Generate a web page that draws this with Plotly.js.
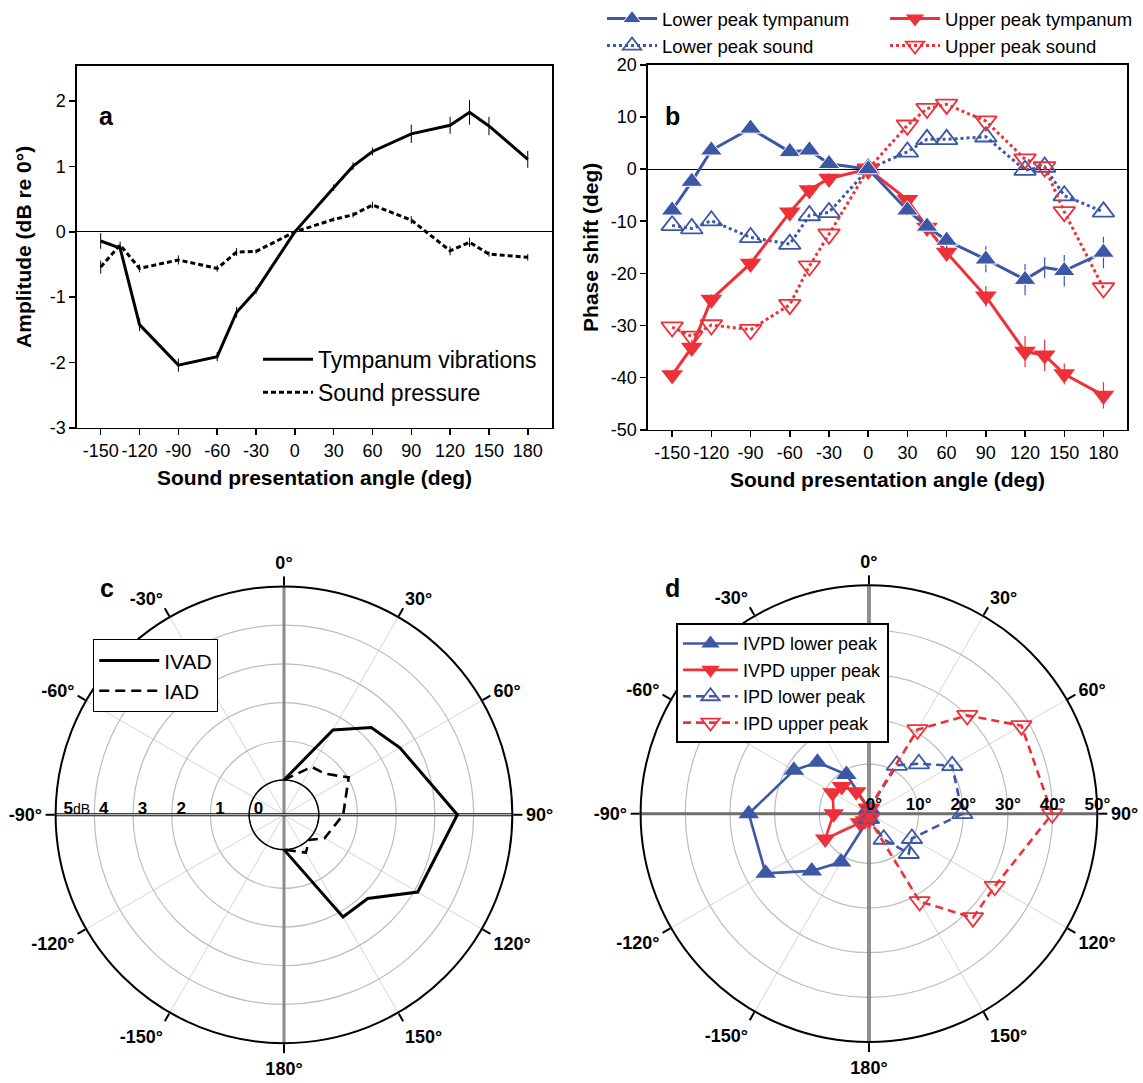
<!DOCTYPE html>
<html>
<head>
<meta charset="utf-8">
<script src="https://cdn.plot.ly/plotly-3.0.1.min.js"></script>
<style>html,body{margin:0;padding:0;background:#fff}</style>
</head>
<body>
<div id="chart" style="width:1143px;height:1083px"></div>
<script>
// ---------- Panel a : amplitude ----------
const angles = [-150,-135,-120,-90,-60,-45,-30,0,30,45,60,90,120,135,150,180];
const tympAmp  = [-0.14,-0.25,-1.42,-2.04,-1.91,-1.23,-0.90,0,0.675,1.005,1.23,1.50,1.63,1.83,1.62,1.11];
const tympErr  = [0.12,0.05,0.10,0.10,0.07,0.08,0.05,0,0.05,0.06,0.06,0.14,0.13,0.19,0.14,0.13];
const soundAmp = [-0.54,-0.20,-0.56,-0.43,-0.56,-0.31,-0.30,0,0.19,0.26,0.41,0.18,-0.29,-0.16,-0.34,-0.39];
const soundErr = [0.10,0.05,0.06,0.07,0.05,0.06,0.03,0,0.03,0.04,0.05,0.06,0.07,0.07,0.04,0.05];

// ---------- Panel b : phase shift ----------
const lowerTymp  = [-7.9,-2.4,3.6,7.8,3.3,3.6,1.0,0,-7.9,-11.0,-13.7,-17.3,-21.2,-18.9,-19.5,-16.0];
const lowerTympErr = [1,1,1,1,1,1,1,0,1,1.5,1.5,2.5,3,2,3,3];
const upperTymp  = [-39.5,-34.2,-25.0,-18.1,-8.3,-4.0,-1.8,0,-5.9,-11.2,-16.0,-24.4,-35.0,-35.7,-39.3,-43.4];
const upperTympErr = [1,1.5,1,1,1,1,1,0,1,1.5,1.5,2,3,3,2,2.5];
const lowerSound = [-10.8,-11.4,-9.9,-13.1,-14.4,-8.9,-8.3,0,3.3,5.7,5.7,6.2,-0.2,0.4,-5.1,-8.2];
const upperSound = [-30.3,-32.1,-29.9,-30.8,-26.0,-18.6,-12.5,0,8.4,11.6,12.4,9.2,1.9,0.4,-8.2,-22.8];

// ---------- Panel c : IVAD / IAD (dB) ----------
const cAngles = [0,30,45,60,90,120,135,150,180];
const ivad = [0,1.63,2.29,2.56,3.58,3.09,2.16,2.15,0];
const iad  = [0,0.53,0.60,1.03,0.63,0.31,0.02,0.23,0];

// ---------- Panel d : IVPD / IPD (deg) ----------
const dAnglesPos = [0,30,45,60,90,120,135,150,180];
const dAnglesNeg = [0,-30,-45,-60,-90,-120,-135,-150,-180];
const ivpdLower = [0,9.0,15.2,18.3,25.8,25.6,17.0,11.4,0];
const ivpdUpper = [0,4.6,7.5,8.3,6.8,10.2,1.8,0.7,0];
const ipdLower  = [0,11.4,14.7,20.4,19.8,10.0,11.5,5.5,0];
const ipdUpper  = [0,20.6,30.0,38.3,39.9,31.4,31.8,21.6,0];

// tick labels
const xTicks = [-150,-120,-90,-60,-30,0,30,60,90,120,150,180];
const xTickText = ['-150','-120','-90','-60','-30','0','30','60','90','120','150','180'];
const aYTicks = [-3,-2,-1,0,1,2];
const aYTickText = ['-3','-2','-1','0','1','2'];
const bYTicks = [-50,-40,-30,-20,-10,0,10,20];
const bYTickText = ['-50','-40','-30','-20','-10','0','10','20'];
const polarTickVals = [0,30,60,90,120,150,180,210,240,270,300,330];
const polarTickText = ['0°','30°','60°','90°','120°','150°','180°','-150°','-120°','-90°','-60°','-30°'];
const cRadTickVals = [0,1,2,3,4,5];
const cRadTickText = ['0','1','2','3','4','5<span style="font-weight:normal;font-size:14px">dB</span>'];
const dRadTickVals = [0,10,20,30,40,50];
const dRadTickText = ['0°','10°','20°','30°','40°','50°'];

const BLUE = '#3d57a7', RED = '#ee3139';
const FONT = 'Liberation Sans, Arial, Helvetica, sans-serif';
const C_RANGE = [-0.9,5], D_RANGE = [-1.1,50];
const NB = '\u00a0';
// labels sit just inside each ring (toward the centre)
const cRadTickShown = cRadTickText.map((t, i) => NB.repeat(i === cRadTickText.length - 1 ? 9 : 4) + t);

const traces = [];
// a
traces.push({x:angles, y:tympAmp, type:'scatter', mode:'lines', name:'Tympanum vibrations', xaxis:'x', yaxis:'y', legend:'legend',
  line:{color:'#000', width:3}, error_y:{type:'data', array:tympErr, visible:true, color:'#000', thickness:1, width:0}});
traces.push({x:angles, y:soundAmp, type:'scatter', mode:'lines', name:'Sound pressure', xaxis:'x', yaxis:'y', legend:'legend',
  line:{color:'#000', width:3, dash:'5px,3px'}, error_y:{type:'data', array:soundErr, visible:true, color:'#000', thickness:1, width:0}});
// b
traces.push({x:angles, y:lowerSound, type:'scatter', mode:'lines+markers', name:'Lower peak sound', xaxis:'x2', yaxis:'y2', legend:'legend2', legendrank:2,
  line:{color:BLUE, width:3, dash:'dot'}, marker:{symbol:'triangle-up-open', size:19, color:BLUE, opacity:1, line:{width:1.8}}});
traces.push({x:angles, y:upperSound, type:'scatter', mode:'lines+markers', name:'Upper peak sound', xaxis:'x2', yaxis:'y2', legend:'legend3', legendrank:2,
  line:{color:RED, width:3, dash:'dot'}, marker:{symbol:'triangle-down-open', size:19, color:RED, opacity:1, line:{width:1.8}}});
traces.push({x:angles, y:upperTymp, type:'scatter', mode:'lines+markers', name:'Upper peak tympanum', xaxis:'x2', yaxis:'y2', legend:'legend3', legendrank:1,
  line:{color:RED, width:3}, marker:{symbol:'triangle-down', size:19, color:RED, opacity:1},
  error_y:{type:'data', array:upperTympErr, visible:true, color:RED, thickness:1.2, width:0}});
traces.push({x:angles, y:lowerTymp, type:'scatter', mode:'lines+markers', name:'Lower peak tympanum', xaxis:'x2', yaxis:'y2', legend:'legend2', legendrank:1,
  line:{color:BLUE, width:3}, marker:{symbol:'triangle-up', size:angles.map(a => a === 135 ? 0 : 19), color:BLUE, opacity:1},
  error_y:{type:'data', array:lowerTympErr, visible:true, color:BLUE, thickness:1.2, width:0}});

// polar helper lines (axes crosses and 0 dB ring)
const ringTheta = []; for (let t = 0; t <= 360; t += 3) ringTheta.push(t);
function cross(subplot, rMax, theta, color, width) {
  return {type:'scatterpolar', subplot:subplot, r:[rMax,rMax], theta:theta, mode:'lines', line:{color:color, width:width}, showlegend:false, hoverinfo:'skip'};
}
traces.push(cross('polar', C_RANGE[1], [0,180], '#8a8a8a', 3));
traces.push(cross('polar', C_RANGE[1], [90,270], '#000', 3));
traces.push(cross('polar', C_RANGE[1], [90,270], '#fff', 1));
traces.push({type:'scatterpolar', subplot:'polar', r:ringTheta.map(() => 0), theta:ringTheta, mode:'lines', line:{color:'#000', width:1.5}, showlegend:false, hoverinfo:'skip'});
traces.push(cross('polar2', D_RANGE[1], [90,270], '#6e6e6e', 3));
traces.push(cross('polar2', D_RANGE[1], [0,180], '#222', 3));
traces.push(cross('polar2', D_RANGE[1], [0,180], '#fff', 1));

// c
traces.push({type:'scatterpolar', subplot:'polar', r:ivad, theta:cAngles, mode:'lines', name:'IVAD', legend:'legend4',
  line:{color:'#000', width:3}});
traces.push({type:'scatterpolar', subplot:'polar', r:iad, theta:cAngles, mode:'lines', name:'IAD', legend:'legend4',
  line:{color:'#000', width:2.6, dash:'10px,6px'}});
// d
traces.push({type:'scatterpolar', subplot:'polar2', r:ivpdLower, theta:dAnglesNeg, mode:'lines+markers', name:'IVPD lower peak', legend:'legend5',
  line:{color:BLUE, width:2.6}, marker:{symbol:'triangle-up', size:18, color:BLUE}});
traces.push({type:'scatterpolar', subplot:'polar2', r:ivpdUpper, theta:dAnglesNeg, mode:'lines+markers', name:'IVPD upper peak', legend:'legend5',
  line:{color:RED, width:2.6}, marker:{symbol:'triangle-down', size:18, color:RED}});
traces.push({type:'scatterpolar', subplot:'polar2', r:ipdLower, theta:dAnglesPos, mode:'lines+markers', name:'IPD lower peak', legend:'legend5',
  line:{color:BLUE, width:2.6, dash:'8px,5px'}, marker:{symbol:'triangle-up-open', size:18, color:BLUE, line:{width:1.8}}});
traces.push({type:'scatterpolar', subplot:'polar2', r:ipdUpper, theta:dAnglesPos, mode:'lines+markers', name:'IPD upper peak', legend:'legend5',
  line:{color:RED, width:2.6, dash:'8px,5px'}, marker:{symbol:'triangle-down-open', size:18, color:RED, line:{width:1.8}}});

const cartAxis = {showline:true, mirror:true, linecolor:'#000', linewidth:1.6, ticks:'outside', ticklen:6, tickwidth:1.5,
  tickcolor:'#000', showgrid:false, tickangle:0, tickfont:{size:18, family:FONT}};
const titleFont = {size:21, family:FONT, weight:'bold', color:'#000'};

const angAxis = {rotation:90, direction:'clockwise', tickmode:'array', tickvals:polarTickVals, ticktext:polarTickText,
  ticks:'outside', ticklen:9, tickwidth:2, tickcolor:'#000', showline:true, linecolor:'#000', linewidth:2,
  gridcolor:'#d4d4d4', gridwidth:1, tickfont:{size:18, family:FONT, weight:'bold'}};

const layout = {
  width:1143, height:1083, margin:{l:0, r:0, t:0, b:0},
  paper_bgcolor:'#fff', plot_bgcolor:'#fff',
  font:{family:FONT, color:'#000', size:18},
  showlegend:true,
  xaxis: Object.assign({}, cartAxis, {domain:[0.0674,0.4829], range:[-168.3,198.7], tickvals:xTicks, ticktext:xTickText, zeroline:false, anchor:'y',
    title:{text:'Sound presentation angle (deg)', font:titleFont, standoff:10}}),
  yaxis: Object.assign({}, cartAxis, {domain:[0.6066,0.9418], range:[-3,2.54], tickvals:aYTicks, ticktext:aYTickText, anchor:'x',
    zeroline:true, zerolinecolor:'#000', zerolinewidth:1,
    title:{text:'Amplitude (dB re 0°)', font:titleFont, standoff:12}}),
  xaxis2: Object.assign({}, cartAxis, {domain:[0.5669,0.986], range:[-168.5,198], tickvals:xTicks, ticktext:xTickText, zeroline:false, anchor:'y2',
    title:{text:'Sound presentation angle (deg)', font:titleFont, standoff:10}}),
  yaxis2: Object.assign({}, cartAxis, {domain:[0.6048,0.9428], range:[-50,20], tickvals:bYTicks, ticktext:bYTickText, anchor:'x2',
    zeroline:true, zerolinecolor:'#000', zerolinewidth:1,
    title:{text:'Phase shift (deg)', font:titleFont, standoff:6}}),
  polar:{domain:{x:[0.0481,0.4488], y:[0.0369,0.4598]}, bgcolor:'rgba(0,0,0,0)',
    angularaxis:angAxis,
    radialaxis:{range:C_RANGE, angle:180, tickangle:180, tickmode:'array', tickvals:cRadTickVals, ticktext:cRadTickShown, showline:false, ticks:'',
      gridcolor:'#bdbdbd', gridwidth:1.2, side:'clockwise', tickfont:{size:17, family:FONT, weight:'bold'}}},
  polar2:{domain:{x:[0.5599,0.9606], y:[0.0379,0.4608]}, bgcolor:'rgba(0,0,0,0)',
    angularaxis:angAxis,
    radialaxis:{range:D_RANGE, angle:0, tickmode:'array', tickvals:dRadTickVals, ticktext:dRadTickText, showline:false, ticks:'',
      gridcolor:'#bdbdbd', gridwidth:1.2, side:'counterclockwise', tickfont:{size:17, family:FONT, weight:'bold'}}},
  legend:{x:0.2257, y:0.69, xanchor:'left', yanchor:'top', bgcolor:'rgba(0,0,0,0)', font:{size:23, family:FONT}, itemwidth:50},
  legend2:{x:0.5267, y:1.003, xanchor:'left', yanchor:'top', bgcolor:'rgba(0,0,0,0)', font:{size:18.5, family:FONT}, traceorder:'normal', itemwidth:50},
  legend3:{x:0.7743, y:1.003, xanchor:'left', yanchor:'top', bgcolor:'rgba(0,0,0,0)', font:{size:18.5, family:FONT}, traceorder:'normal', itemwidth:50},
  legend4:{x:0.0814, y:0.411, xanchor:'left', yanchor:'top', bgcolor:'#fff', bordercolor:'#000', borderwidth:1.2, font:{size:21, family:FONT}, itemwidth:60},
  legend5:{x:0.5914, y:0.4257, xanchor:'left', yanchor:'top', bgcolor:'#fff', bordercolor:'#000', borderwidth:2, font:{size:18, family:FONT}, itemwidth:55},
  annotations:[
    {text:'a', x:0.0849, y:0.9104, xref:'paper', yref:'paper', showarrow:false, font:{size:25, family:FONT, weight:'bold'}},
    {text:'b', x:0.588, y:0.9104, xref:'paper', yref:'paper', showarrow:false, font:{size:25, family:FONT, weight:'bold'}},
    {text:'c', x:0.0857, y:0.458, xref:'paper', yref:'paper', showarrow:false, font:{size:25, family:FONT, weight:'bold'}},
    {text:'d', x:0.5888, y:0.458, xref:'paper', yref:'paper', showarrow:false, font:{size:25, family:FONT, weight:'bold'}}
  ]
};

Plotly.newPlot('chart', traces, layout, {displayModeBar:false, staticPlot:true});
</script>
</body>
</html>
